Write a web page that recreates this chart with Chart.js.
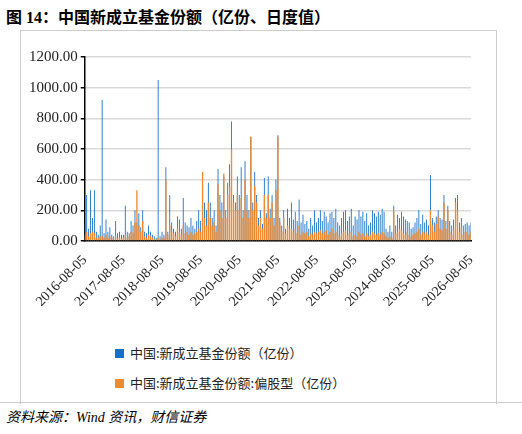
<!DOCTYPE html><html><head><meta charset="utf-8">
<script src="https://cdn.jsdelivr.net/npm/chart.js@4/dist/chart.umd.min.js"></script>
<style>
body{margin:0;width:522px;height:434px;background:#fff;position:relative;font-family:"Liberation Serif","Noto Sans CJK SC",serif;overflow:hidden}
#t{position:absolute;left:6px;top:4px;font-weight:bold;font-size:16px;font-family:"Liberation Serif","Noto Sans CJK SC";}
#frame{position:absolute;left:20px;top:30px;width:475px;height:373px;border-left:1px solid #ccc;border-right:1px solid #ccc;border-top:1px solid #ccc}
#cw{position:absolute;left:20px;top:45px;width:475px;height:268px}
.lg{position:absolute;left:115px;font-size:13px;font-family:"Noto Sans CJK SC";color:#222}
.lg span{display:inline-block;width:9px;height:9px;margin-right:6px}
#src{position:absolute;left:6px;top:406px;font-style:italic;font-size:14px;font-family:"Liberation Serif","Noto Sans CJK SC"}
#bl{position:absolute;left:0;top:402px;width:522px;border-top:1px solid #ccc}
</style></head><body>
<div id="t">图 14：中国新成立基金份额（亿份、日度值）</div>
<div id="frame"></div>
<div id="cw"><canvas id="c"></canvas></div>
<div class="lg" style="top:343px"><span style="background:#1470C8"></span>中国:新成立基金份额（亿份）</div>
<div class="lg" style="top:373px"><span style="background:#F08A30"></span>中国:新成立基金份额:偏股型（亿份）</div>
<div id="bl"></div>
<div id="src">资料来源：Wind 资讯，财信证券</div>
<script>
const yearLabels=["2016-08-05","2017-08-05","2018-08-05","2019-08-05","2020-08-05","2021-08-05","2022-08-05","2023-08-05","2024-08-05","2025-08-05","2026-08-05"];
const totalShares=[
120,300,80,330,150,330,60,40,100,920,50,140,60,90,40,30,130,50,60,40,
40,230,60,50,130,100,200,120,180,90,200,60,50,100,60,40,30,20,1050,30,
60,40,480,60,300,120,80,60,160,140,80,280,120,100,90,150,100,80,130,200,
130,440,250,200,380,250,150,200,100,470,300,250,420,200,380,500,780,300,250,420,
300,480,200,520,300,200,680,250,450,300,150,200,110,410,180,420,210,300,150,400,
690,150,100,200,80,210,150,250,140,190,130,270,120,170,110,130,80,150,100,200,
120,150,200,130,190,160,120,180,190,150,210,120,100,150,190,200,130,160,210,100,
160,140,200,160,190,130,180,100,120,200,180,160,190,170,210,190,80,60,100,60,
230,100,170,150,190,160,140,130,120,80,90,120,150,200,110,170,120,140,100,430,
150,120,160,200,150,140,300,130,230,130,100,140,280,300,120,150,100,110,120,100,120];
const equityShares=[
40,60,30,50,60,50,20,20,30,30,20,40,20,30,20,10,30,20,20,15,
20,40,20,30,60,50,120,330,100,60,130,30,20,40,30,20,10,10,20,10,
20,20,400,40,100,60,50,30,80,60,40,100,50,60,40,60,40,50,60,80,
60,450,150,100,250,150,100,120,60,370,200,150,440,150,300,350,600,250,200,300,
200,280,150,400,200,150,680,200,360,250,100,150,80,300,150,300,150,250,100,330,
680,120,60,150,50,100,80,80,60,80,50,100,40,60,50,60,30,50,40,60,
50,60,70,50,60,70,40,60,80,50,60,40,30,50,60,70,40,50,60,30,
40,30,60,40,50,30,50,30,40,60,50,40,50,40,60,50,30,20,30,20,
200,50,60,80,70,50,40,60,40,30,40,50,60,80,40,60,50,60,40,200,
100,60,110,160,80,70,250,80,200,60,40,80,250,200,60,90,40,60,60,40,60];
const perYear=20;
const labels=totalShares.map((_,i)=>i%perYear===0?yearLabels[i/perYear]:"");
new Chart(document.getElementById('c'),{type:'bar',
data:{labels,datasets:[
{label:'中国:新成立基金份额:偏股型（亿份）',data:equityShares,backgroundColor:'#F08A30',grouped:false,barPercentage:1,categoryPercentage:0.7},
{label:'中国:新成立基金份额（亿份）',data:totalShares,backgroundColor:'#1470C8',grouped:false,barPercentage:1,categoryPercentage:0.45}]},
options:{responsive:true,maintainAspectRatio:false,animation:false,
layout:{padding:{top:12,right:24,left:6}},
plugins:{legend:{display:false},tooltip:{enabled:false}},
scales:{
x:{offset:false,grid:{display:false,drawTicks:true},border:{color:'#000',width:1.5},
ticks:{autoSkip:false,maxRotation:45,minRotation:45,color:'#222',font:{family:'Liberation Serif',size:14},
callback:function(v){return labels[v];}},afterTickToLabelConversion:function(a){a.ticks=a.ticks.filter(t=>t.label!=="");}},
y:{min:0,max:1200,ticks:{stepSize:200,color:'#222',font:{family:'Liberation Serif',size:15},callback:v=>v.toFixed(2)},
grid:{color:'#d9d9d9',lineWidth:1.5,drawTicks:true,tickColor:'#000',tickLength:4},border:{color:'#000',width:1.5}}}}});
</script></body></html>
